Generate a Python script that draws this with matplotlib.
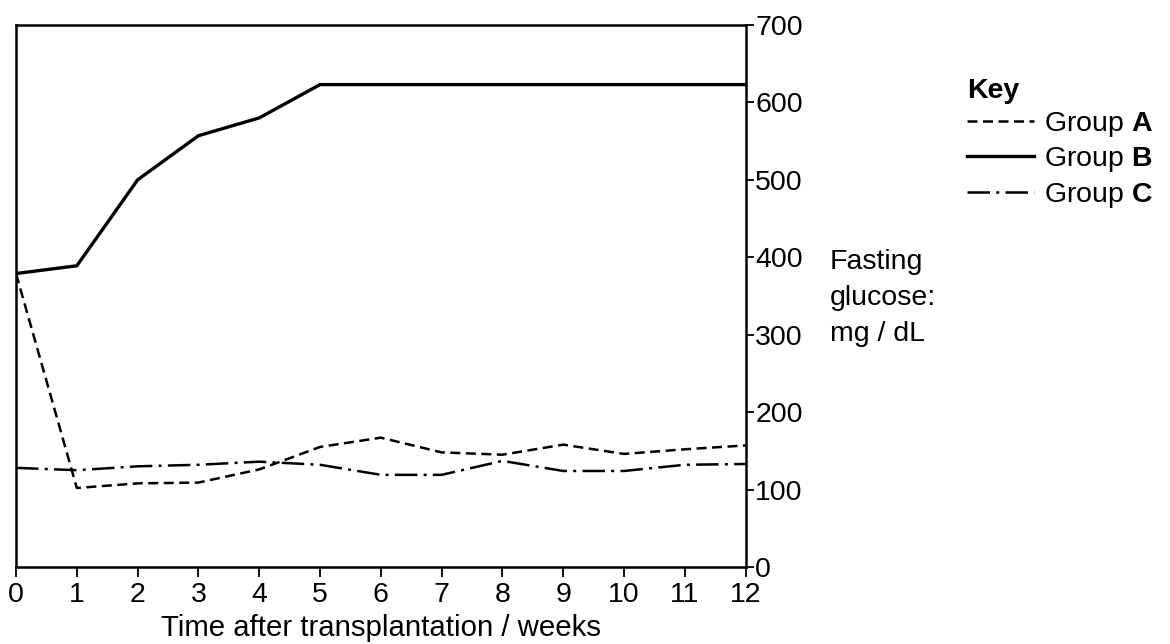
import matplotlib
matplotlib.use("Agg")
import matplotlib.pyplot as plt

plt.rcParams["font.family"] = ["Liberation Sans", "DejaVu Sans"]
plt.rcParams["mathtext.fontset"] = "custom"
plt.rcParams["mathtext.rm"] = "Liberation Sans"
plt.rcParams["mathtext.bf"] = "Liberation Sans:bold"

# data
weeks = [0, 1, 2, 3, 4, 5, 6, 7, 8, 9, 10, 11, 12]
group_a = [379, 102, 108, 109, 126, 155, 167, 148, 145, 158, 146, 152, 157]
group_b = [379, 389, 500, 557, 580, 623, 623, 623, 623, 623, 623, 623, 623]
group_c = [128, 125, 130, 132, 136, 132, 119, 119, 137, 124, 124, 132, 133]
y_ticks = [0, 100, 200, 300, 400, 500, 600, 700]

FS = 20.5

fig = plt.figure(figsize=(11.7, 6.44), dpi=100)
ax = fig.add_axes([0.0137, 0.1196, 0.6236, 0.8416])

la, = ax.plot(weeks, group_a, color="black", lw=1.8, linestyle=(0, (4, 2.2)))
lb, = ax.plot(weeks, group_b, color="black", lw=2.4, linestyle="-")
lc, = ax.plot(weeks, group_c, color="black", lw=1.8, linestyle=(0, (9, 2.5, 1.2, 2.5)))

ax.set_xlim(0, 12)
ax.set_ylim(0, 700)
ax.set_xticks(weeks)
ax.set_yticks(y_ticks)
ax.yaxis.tick_right()
ax.tick_params(axis="both", labelsize=FS, direction="out", width=1.3, color="black")
ax.tick_params(axis="x", length=7.5, pad=3.5)
ax.tick_params(axis="y", length=6, pad=1)
for s in ax.spines.values():
    s.set_linewidth(1.8)

ax.set_xlabel("Time after transplantation / weeks", fontsize=21.2, labelpad=4)
fig.text(0.709, 0.614, "Fasting\nglucose:\nmg / dL", fontsize=FS, ha="left", va="top",
         linespacing=1.5)

leg = fig.legend([la, lb, lc],
                 [r"Group $\mathbf{A}$", r"Group $\mathbf{B}$", r"Group $\mathbf{C}$"],
                 title="Key", loc="upper left", bbox_to_anchor=(0.817, 0.897),
                 frameon=False, fontsize=FS, title_fontsize=FS,
                 handlelength=2.35, handletextpad=0.35, labelspacing=0.22,
                 alignment="left", borderaxespad=0)
leg.get_title().set_fontweight("bold")

fig.savefig("out.png", dpi=100)
